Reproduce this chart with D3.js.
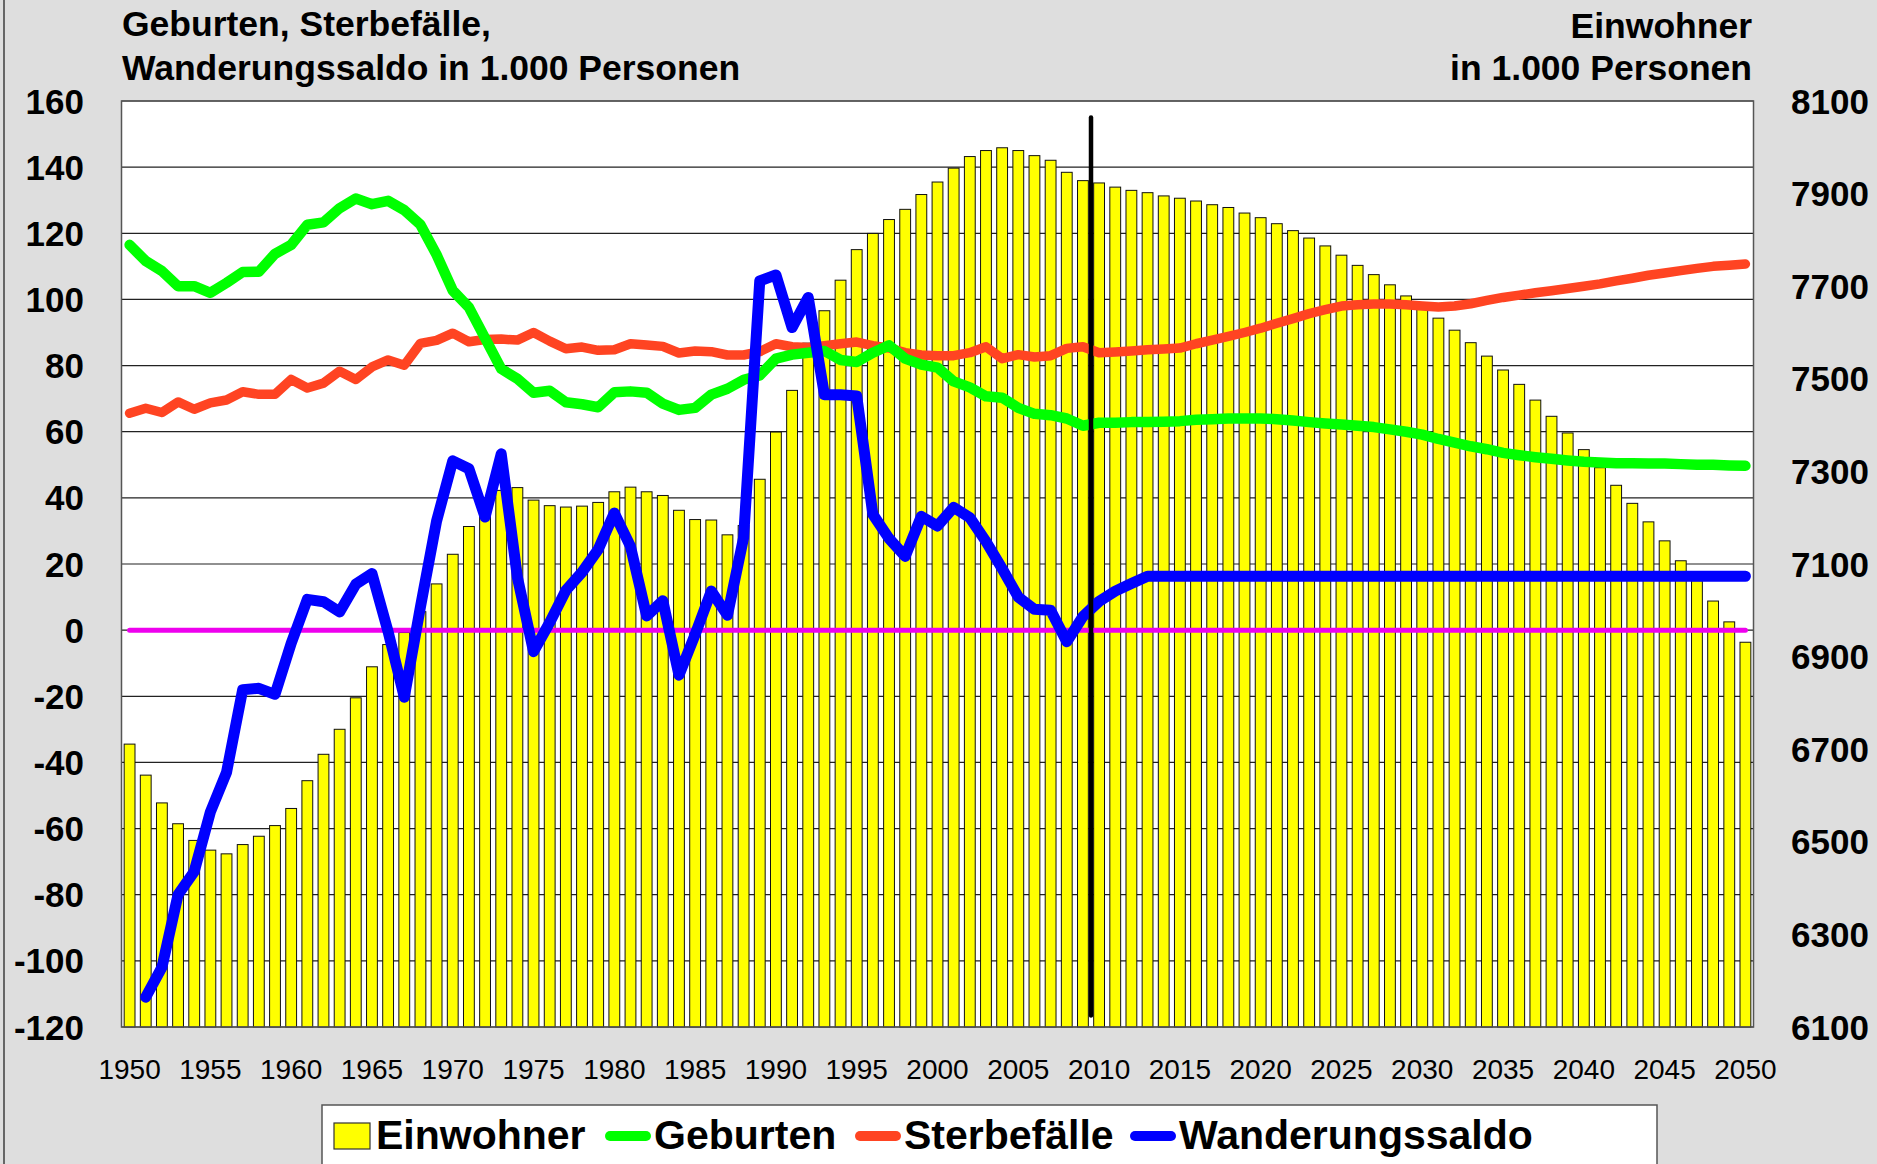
<!DOCTYPE html>
<html><head><meta charset="utf-8">
<script src="https://cdn.jsdelivr.net/npm/d3@7"></script>
<style>
html,body{margin:0;padding:0;background:#dedede;}
svg{display:block;font-family:"Liberation Sans",Arial,sans-serif;}
</style></head>
<body><svg id="chart" width="1877" height="1164"></svg>
<script>
const years = d3.range(1950, 2051);
const einwohner = [6711,6644,6584,6539,6503,6482,6474,6494,6512,6535,
6572,6632,6689,6743,6811,6878,6926,6952,6997,7057,
7121,7181,7225,7259,7265,7238,7226,7223,7225,7233,
7256,7266,7256,7248,7216,7196,7195,7163,7183,7283,
7385,7475,7577,7647,7713,7779,7814,7844,7866,7898,
7925,7955,7980,7993,7999,7993,7982,7972,7946,7928,
7923,7914,7907,7902,7895,7890,7884,7876,7870,7858,
7848,7835,7820,7804,7787,7767,7745,7725,7703,7679,
7653,7631,7605,7578,7549,7519,7488,7454,7419,7383,
7347,7308,7270,7231,7191,7150,7107,7064,7020,6975,6931];
const geburten = [116.5,111.6,108.6,104,104,102,105,108.3,108.4,113.8,
116.5,122.6,123.3,127.6,130.5,128.8,129.8,127,122.6,113.5,
102.7,97.6,88.3,79,76,71.8,72.4,68.9,68.3,67.4,
71.9,72.2,71.8,68.5,66.6,67.2,71.2,73,75.7,77,
82.1,83.3,83.9,84.4,81.7,81.1,83.9,86.1,82.1,80.3,
79.4,75.2,73.4,70.7,70.3,67.2,65.4,65,64,61.8,
62.7,62.7,62.9,62.9,63,63.2,63.6,63.8,64,64,
64,63.8,63.4,62.9,62.5,62.2,61.8,61.4,60.7,60,
59.1,57.8,56.7,55.6,54.7,53.6,52.9,52.3,51.8,51.3,
50.9,50.7,50.5,50.5,50.4,50.4,50.2,50,50,49.8,49.7];
const sterbefaelle = [65.6,67.1,65.8,69,66.8,68.7,69.6,72.1,71.3,71.3,
75.8,73.2,74.7,78.3,75.8,79.6,81.7,80.1,86.7,87.6,
89.8,87.2,87.9,88,87.7,90,87.4,85.1,85.6,84.6,
84.8,86.6,86.2,85.8,83.8,84.4,84.2,83.2,83.2,84.2,
86.6,85.7,85.5,86,86.6,87.1,86,85.3,83.9,83.2,
83,83,83.9,85.7,82.1,83.3,82.6,83,85.2,85.7,
83.9,84.1,84.4,84.8,85,85.3,86.6,87.7,88.8,90,
91.3,92.8,94.2,95.7,96.9,98,98.4,98.6,98.6,98.4,
98,97.7,98,98.7,99.7,100.6,101.3,102,102.6,103.3,
104,104.7,105.6,106.4,107.3,108,108.7,109.4,110,110.3,110.7];
// Wanderungssaldo starts in 1951
const wanderungYears = d3.range(1951, 2051);
const wanderungssaldo = [-111,-102,-80,-73,-55,-43,-18,-17.6,-19.4,
-4,9.3,8.6,5.5,13.9,17.1,-0.5,-20.3,7,33,
51.2,48.8,34.2,53.3,16,-6.5,2.3,12,17.5,24.4,
35.4,25.3,4.3,8.9,-13.6,-1.3,11.8,4.5,28,105.6,
107.4,91.5,100.6,71.2,71.2,70.8,35,27.7,22.3,34.4,
31.5,37.1,34,26.8,18.6,10,6.3,6,-3.5,4.1,
8.7,11.8,14.1,16.3,16.3,16.3,16.3,16.3,16.3,16.3,
16.3,16.3,16.3,16.3,16.3,16.3,16.3,16.3,16.3,16.3,
16.3,16.3,16.3,16.3,16.3,16.3,16.3,16.3,16.3,16.3,
16.3,16.3,16.3,16.3,16.3,16.3,16.3,16.3,16.3,16.3,16.3];
const leftTicks = [160,140,120,100,80,60,40,20,0,-20,-40,-60,-80,-100,-120];
const rightTicks = [8100,7900,7700,7500,7300,7100,6900,6700,6500,6300,6100];
const xTickLabels = [1950,1955,1960,1965,1970,1975,1980,1985,1990,1995,2000,2005,2010,2015,2020,2025,2030,2035,2040,2045,2050];
const zeroLine = [{year:1950,v:0},{year:2050,v:0}];
const divider = {year0:2009, year1:2010, top:155, bottom:-116.5};
const titleLeft = ["Geburten, Sterbefälle,","Wanderungssaldo in 1.000 Personen"];
const titleRight = ["Einwohner","in 1.000 Personen"];
const legendItems = [
  {name:"Einwohner", type:"bar", color:"#ffff00"},
  {name:"Geburten", type:"line", color:"#00ff00"},
  {name:"Sterbefälle", type:"line", color:"#ff4422"},
  {name:"Wanderungssaldo", type:"line", color:"#0000ff"}
];

const svg = d3.select("#chart");
const W = 1877, H = 1164;
const L = 121.5, R = 1753.5, T = 101, B = 1027;
const font = '"Liberation Sans", Arial, sans-serif';

svg.append("rect").attr("width",W).attr("height",H).attr("fill","#dedede");
svg.append("line").attr("x1",4).attr("x2",4).attr("y1",0).attr("y2",H).attr("stroke","#666").attr("stroke-width",2);

const x = d3.scaleBand().domain(years).range([L,R]).paddingInner(0.33).paddingOuter(0.165);
const xc = d => x(d) + x.bandwidth()/2;
const yL = d3.scaleLinear().domain([-120,160]).range([B,T]);
const yR = d3.scaleLinear().domain([6100,8100]).range([B,T]);

// plot area
svg.append("rect").attr("x",L).attr("y",T).attr("width",R-L).attr("height",B-T).attr("fill","#fff");

// gridlines
svg.append("g").selectAll("line").data(leftTicks).join("line")
  .attr("x1",L).attr("x2",R).attr("y1",d=>yL(d)).attr("y2",d=>yL(d))
  .attr("stroke","#222").attr("stroke-width",1.2);

// bars
svg.append("g").selectAll("rect").data(years).join("rect")
  .attr("x",d=>x(d)).attr("width",x.bandwidth())
  .attr("y",(d,i)=>yR(einwohner[i])).attr("height",(d,i)=>B-yR(einwohner[i]))
  .attr("fill","#ffff00").attr("stroke","#111").attr("stroke-width",1);

// plot border
svg.append("rect").attr("x",L).attr("y",T).attr("width",R-L).attr("height",B-T)
  .attr("fill","none").attr("stroke","#555").attr("stroke-width",1.5);

// zero line
svg.append("path").datum(zeroLine)
  .attr("d",d3.line().x(d=>xc(d.year)).y(d=>yL(d.v)))
  .attr("stroke","#ee00ee").attr("stroke-width",5).attr("fill","none").attr("stroke-linecap","round");

function drawLine(xs, vals, color, w){
  svg.append("path").datum(vals.map((v,i)=>({year:xs[i],v})))
    .attr("d",d3.line().x(d=>xc(d.year)).y(d=>yL(d.v)))
    .attr("fill","none").attr("stroke",color).attr("stroke-width",w)
    .attr("stroke-linejoin","round").attr("stroke-linecap","round");
}
drawLine(years, sterbefaelle, "#ff4422", 9.5);
drawLine(years, geburten, "#00ff00", 10.5);
drawLine(wanderungYears, wanderungssaldo, "#0000ff", 11);

// divider
const dx = (xc(divider.year0)+xc(divider.year1))/2;
svg.append("line").attr("x1",dx).attr("x2",dx).attr("y1",yL(divider.top)).attr("y2",yL(divider.bottom))
  .attr("stroke","#000").attr("stroke-width",4.5).attr("stroke-linecap","round");

// left axis labels
svg.append("g").selectAll("text").data(leftTicks).join("text")
  .attr("x",84).attr("y",d=>yL(d)).attr("dy","0.36em").attr("text-anchor","end")
  .attr("font-family",font).attr("font-weight","bold").attr("font-size",35).text(d=>d);
// right axis labels
svg.append("g").selectAll("text").data(rightTicks).join("text")
  .attr("x",1791).attr("y",d=>yR(d)).attr("dy","0.36em").attr("text-anchor","start")
  .attr("font-family",font).attr("font-weight","bold").attr("font-size",35).text(d=>d);
// x labels
svg.append("g").selectAll("text").data(xTickLabels).join("text")
  .attr("x",d=>xc(d)).attr("y",1079).attr("text-anchor","middle")
  .attr("font-family",font).attr("font-size",28).text(d=>d);

// titles
svg.append("g").selectAll("text").data(titleLeft).join("text")
  .attr("x",122).attr("y",(d,i)=>36+i*44)
  .attr("font-family",font).attr("font-weight","bold").attr("font-size",35.5).text(d=>d);
svg.append("g").selectAll("text").data(titleRight).join("text")
  .attr("x",1752).attr("y",(d,i)=>38+i*42).attr("text-anchor","end")
  .attr("font-family",font).attr("font-weight","bold").attr("font-size",35.5).text(d=>d);

// legend
const lg = svg.append("g");
lg.append("rect").attr("x",322).attr("y",1105).attr("width",1335).attr("height",90)
  .attr("fill","#fff").attr("stroke","#555").attr("stroke-width",1.5);
const legendX = [334, 605, 855, 1130];
legendItems.forEach((it,i)=>{
  const x0 = legendX[i];
  let tx;
  if(it.type==="bar"){
    lg.append("rect").attr("x",x0).attr("y",1123).attr("width",36).attr("height",26)
      .attr("fill",it.color).attr("stroke","#333").attr("stroke-width",1.2);
    tx = x0+42;
  } else {
    lg.append("line").attr("x1",x0+5).attr("x2",x0+41).attr("y1",1136).attr("y2",1136)
      .attr("stroke",it.color).attr("stroke-width",10).attr("stroke-linecap","round");
    tx = x0+49;
  }
  lg.append("text").attr("x",tx).attr("y",1149)
    .attr("font-family",font).attr("font-weight","bold").attr("font-size",41).text(it.name);
});
</script></body></html>
